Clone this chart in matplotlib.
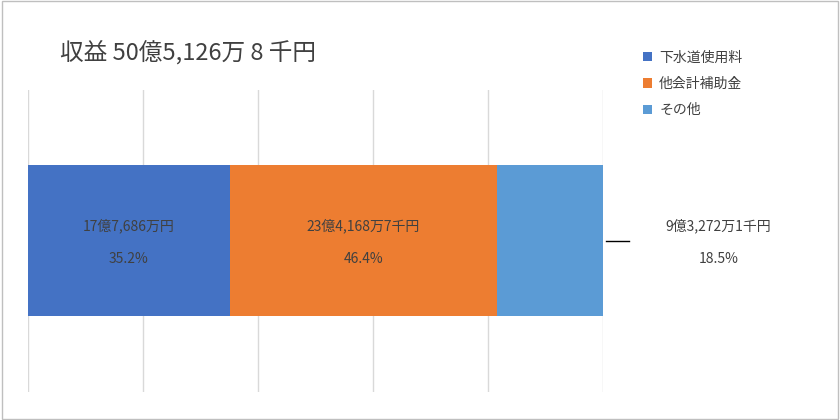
import matplotlib.pyplot as plt
import numpy as np

plt.rcParams['font.family'] = 'Noto Sans CJK JP'

categories = ['下水道使用料', '他会計補助金', 'その他']
amounts = [177686, 234168.7, 93272.1]  # 万円
amount_labels = ['17億7,686万円', '23億4,168万7千円', '9億3,272万1千円']
colors = ['#4472C4', '#ED7D31', '#5B9BD5']
title = '収益 50億5,126万 8 千円'

total = sum(amounts)
pcts = [a / total * 100 for a in amounts]

fig = plt.figure(figsize=(8.4, 4.2), dpi=100)
fig.patches.append(plt.Rectangle((0.002, 0.002), 0.996, 0.996, transform=fig.transFigure,
                                 fill=False, edgecolor='#BFBFBF', linewidth=1))
ax = fig.add_axes([0.033, 0.067, 0.685, 0.719])

left = 0
for i, (p, c) in enumerate(zip(pcts, colors)):
    ax.barh(0, p, left=left, height=1.0, color=c, label=categories[i], zorder=2)
    mid = left + p / 2
    if i < 2:
        ax.text(mid, 0.1, amount_labels[i], ha='center', va='center', fontsize=10, color='#404040', zorder=3)
        ax.text(mid, -0.12, f'{p:.1f}%', ha='center', va='center', fontsize=10, color='#404040', zorder=3)
    left += p

# outside label for last segment
ax.plot([100.5, 104.5], [0, 0], color='black', lw=1, clip_on=False)
ax.text(120, 0.1, amount_labels[2], ha='center', va='center', fontsize=10, color='#404040', clip_on=False)
ax.text(120, -0.12, f'{pcts[2]:.1f}%', ha='center', va='center', fontsize=10, color='#404040', clip_on=False)

ax.set_xlim(0, 100)
ax.set_ylim(-1, 1)
ax.set_xticks(np.arange(0, 101, 20))
ax.grid(axis='x', color='#D9D9D9', lw=1, zorder=0)
ax.tick_params(left=False, bottom=False, labelleft=False, labelbottom=False)
for s in ax.spines.values():
    s.set_visible(False)

fig.text(0.071, 0.875, title, fontsize=17, color='#404040', va='center')
fig.legend(loc='upper left', bbox_to_anchor=(0.75, 0.91), frameon=False, fontsize=10,
           handlelength=0.7, handleheight=0.7, labelspacing=0.9, handletextpad=0.5,
           labelcolor='#404040')

fig.savefig('out.png', dpi=100)
